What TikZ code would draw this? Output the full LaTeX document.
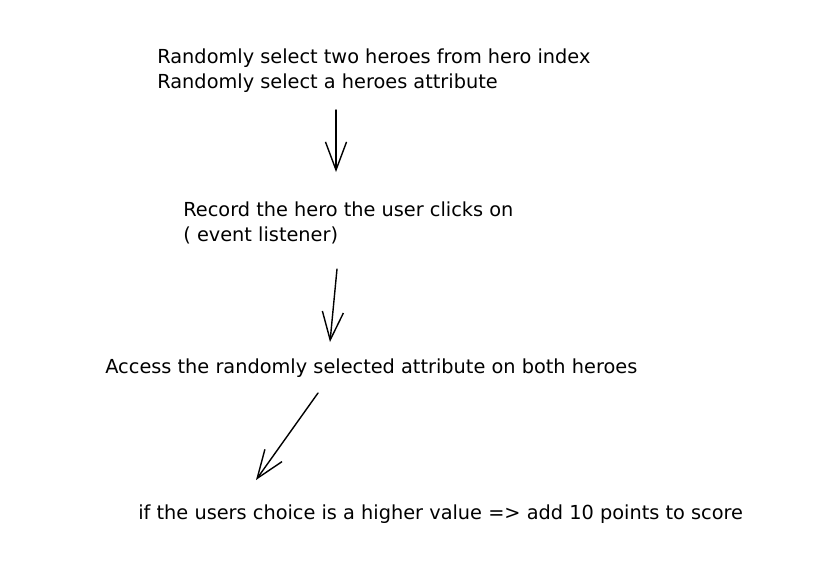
\documentclass[tikz,border=0pt]{standalone}
\usepackage{fontspec}
\setmainfont{DejaVu Sans}
\usetikzlibrary{arrows.meta}

\begin{document}
\begin{tikzpicture}[x=0.02cm, y=-0.02cm, font=\fontsize{11}{14}\selectfont]
    \useasboundingbox (0,0) rectangle (815,576);
    % Place nodes
    \node [anchor=base west, align=left, inner sep=0pt] (pick) at (157,88) {Randomly select two heroes from hero index\\Randomly select a heroes attribute};
    \node [anchor=base west, align=left, inner sep=0pt] (record) at (183,241) {Record the hero the user clicks on\\( event listener)};
    \node [anchor=base west, inner sep=0pt] (access) at (105,373) {Access the randomly selected attribute on both heroes};
    \node [anchor=base west, inner sep=0pt] (score) at (138,519) {if the users choice is a higher value => add 10 points to score};
    % Arrow ends
    \coordinate (P1) at (336,110);
    \coordinate (P2) at (336,172);
    \coordinate (R1) at (337,269);
    \coordinate (R2) at (330,342);
    \coordinate (A1) at (318,393);
    \coordinate (A2) at (256,480);
    \path [draw, -{Straight Barb[length=16pt, width=12pt]}, line width=0.8pt, line cap=round] (P1) -- (P2);
    \path [draw, -{Straight Barb[length=16pt, width=12pt]}, line width=0.8pt, line cap=round] (R1) -- (R2);
    \path [draw, -{Straight Barb[length=16pt, width=12pt]}, line width=0.8pt, line cap=round] (A1) -- (A2);
\end{tikzpicture}
\end{document}
